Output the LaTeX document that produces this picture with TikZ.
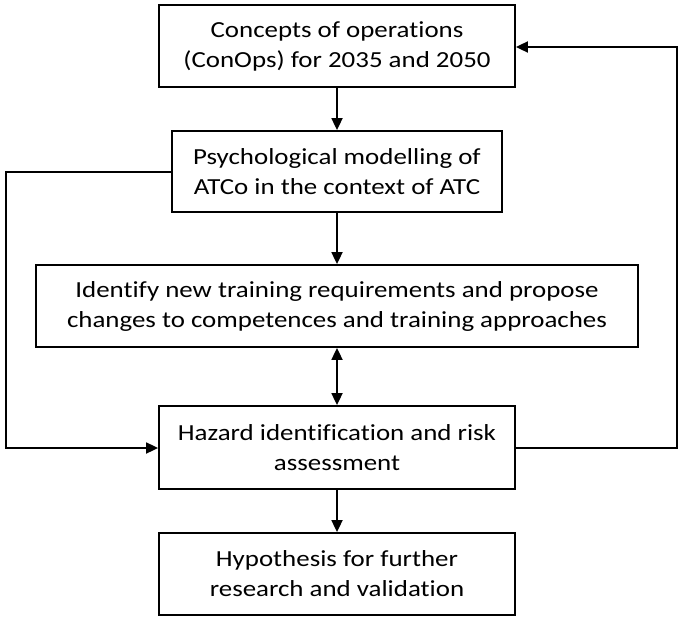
\documentclass[tikz,border=0pt]{standalone}
\usepackage{fontspec}
\setmainfont[FakeStretch=1.17,Ligatures=NoCommon]{Carlito}
\usetikzlibrary{arrows.meta}
\begin{document}
\begin{tikzpicture}[x=1pt,y=-1pt,
  box/.style={draw,line width=1.8pt,align=center,inner sep=0pt,font=\fontsize{23}{30}\selectfont},
  conn/.style={line width=1.8pt,-{Triangle[length=12pt,width=11pt]}}]
\useasboundingbox (0,0) rectangle (685,621);
\node[box,minimum width=356pt,minimum height=82pt] (b1) at (337,46) {Concepts of operations\\(ConOps) for 2035 and 2050};
\node[box,minimum width=330pt,minimum height=81pt] (b2) at (337,171.5) {Psychological modelling of\\ATCo in the context of ATC};
\node[box,minimum width=602pt,minimum height=82pt] (b3) at (337,306) {Identify new training requirements and propose\\changes to competences and training approaches};
\node[box,minimum width=356pt,minimum height=83pt] (b4) at (337,447.5) {Hazard identification and risk\\assessment};
\node[box,minimum width=356pt,minimum height=82pt] (b5) at (337,574) {Hypothesis for further\\research and validation};
\coordinate (l1) at (6,172);
\coordinate (l2) at (6,448);
\coordinate (r1) at (677,448);
\coordinate (r2) at (677,47);
\draw[conn] (b1) -- (b2);
\draw[conn] (b2) -- (b3);
\draw[conn,{Triangle[length=12pt,width=11pt]}-{Triangle[length=12pt,width=11pt]}] (b3) -- (b4);
\draw[conn] (b4) -- (b5);
\draw[conn] (b2.west |- l1) -- (l1) -- (l2) -- (b4.west |- l2);
\draw[conn] (b4.east |- r1) -- (r1) -- (r2) -- (b1.east |- r2);
\end{tikzpicture}
\end{document}
